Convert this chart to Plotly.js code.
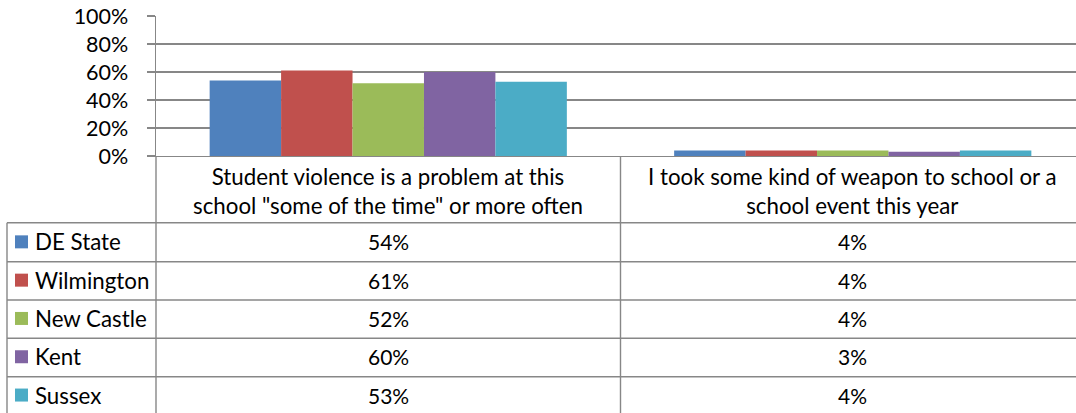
<!DOCTYPE html>
<html>
<head>
<meta charset="utf-8">
<script src="https://cdn.plot.ly/plotly-3.0.1.min.js"></script>
<style>html,body{margin:0;padding:0;background:#fff;}#chart{width:1076px;height:413px;}</style>
</head>
<body>
<div id="chart"></div>
<script>
// ---- data ----
var categories = [
  'Student violence is a problem at this<br>school "some of the time" or more often',
  'I took some kind of weapon to school or a<br>school event this year'
];
var seriesNames = ['DE State', 'Wilmington', 'New Castle', 'Kent', 'Sussex'];
var deState    = [0.54, 0.04];
var wilmington = [0.61, 0.04];
var newCastle  = [0.52, 0.04];
var kent       = [0.60, 0.03];
var sussex     = [0.53, 0.04];
var yTickVals  = [0, 0.2, 0.4, 0.6, 0.8, 1.0];
var yTickText  = ['0%', '20%', '40%', '60%', '80%', '100%'];

var seriesValues = [deState, wilmington, newCastle, kent, sussex];
var colors = ['#4F81BD', '#C0504D', '#9BBB59', '#8064A2', '#4BACC6'];

// ---- geometry helpers (pixel -> paper) ----
var W = 1076, H = 413;
var mL = 156, mR = 0, mT = 16, mB = 257;
var pw = W - mL - mR, ph = H - mT - mB;
function PX(px) { return (px - mL) / pw; }
function PY(py) { return (H - mB - py) / ph; }

var gridColor = '#878787';
var fontFam = 'Lato, "Open Sans", sans-serif';
var fsNum = 21;
var fsTxt = 22.3;

var xIdx = categories.map(function (c, i) { return i; });

var traces = seriesNames.map(function (name, s) {
  return {
    type: 'bar',
    name: name,
    x: xIdx,
    y: seriesValues[s],
    marker: { color: colors[s], line: { width: 0 } },
    hoverinfo: 'skip'
  };
});

var rowLines = [222.7, 261.7, 300, 338.3, 376.7];
var rowH = 38.3;
var shapes = [];
var annotations = [];

// horizontal table lines
rowLines.forEach(function (py) {
  shapes.push({ type: 'line', xref: 'paper', yref: 'paper',
    x0: PX(7), x1: 1, y0: PY(py), y1: PY(py),
    line: { color: gridColor, width: 1.4 } });
});
// vertical lines
shapes.push({ type: 'line', xref: 'paper', yref: 'paper',
  x0: PX(7), x1: PX(7), y0: PY(rowLines[0]), y1: PY(H + 5),
  line: { color: gridColor, width: 1.4 } });
shapes.push({ type: 'line', xref: 'paper', yref: 'paper',
  x0: 0, x1: 0, y0: 0, y1: PY(H + 5),
  line: { color: gridColor, width: 1.4 } });
// divider between categories (data coordinate 0.5)
shapes.push({ type: 'line', xref: 'x', yref: 'paper',
  x0: 0.5, x1: 0.5, y0: 0, y1: PY(H + 5),
  line: { color: gridColor, width: 1.4 } });

// category header labels
categories.forEach(function (c, i) {
  annotations.push({ xref: 'x', yref: 'paper', x: i, y: PY(191),
    text: c, showarrow: false, xanchor: 'center', yanchor: 'middle',
    font: { family: fontFam, size: fsTxt, color: '#000' } });
});

// table rows
seriesNames.forEach(function (name, s) {
  var cy = rowLines[0] + rowH * s + rowH / 2;
  shapes.push({ type: 'rect', xref: 'paper', yref: 'paper',
    x0: PX(15), x1: PX(28), y0: PY(cy - 6.5), y1: PY(cy + 6.5),
    fillcolor: colors[s], line: { width: 0 } });
  annotations.push({ xref: 'paper', yref: 'paper', x: PX(32.5), y: PY(cy),
    text: name, showarrow: false, xanchor: 'left', yanchor: 'middle',
    font: { family: fontFam, size: fsTxt, color: '#000' } });
  seriesValues[s].forEach(function (v, i) {
    annotations.push({ xref: 'x', yref: 'paper', x: i, y: PY(cy),
      text: Math.round(v * 100) + '%', showarrow: false,
      xanchor: 'center', yanchor: 'middle',
      font: { family: fontFam, size: fsNum, color: '#000' } });
  });
});

var layout = {
  width: W, height: H,
  margin: { l: mL, r: mR, t: mT, b: mB, pad: 0 },
  paper_bgcolor: '#fff', plot_bgcolor: '#fff',
  showlegend: false,
  barmode: 'group',
  bargap: 0.231,
  bargroupgap: 0,
  font: { family: fontFam, size: fsNum, color: '#000' },
  xaxis: {
    range: [-0.5, -0.5 + pw / 464.5],
    showticklabels: false, ticks: '', showgrid: false, zeroline: false,
    showline: true, linecolor: gridColor, linewidth: 1.4, fixedrange: true
  },
  yaxis: {
    range: [0, 1], tickvals: yTickVals, ticktext: yTickText,
    ticks: 'outside', ticklen: 8, tickcolor: gridColor, tickwidth: 1.4,
    ticklabelstandoff: 14,
    showgrid: true, gridcolor: gridColor, gridwidth: 1.4,
    zeroline: false, showline: true, linecolor: gridColor, linewidth: 1.4,
    tickfont: { family: fontFam, size: 21.5, color: '#000' }, fixedrange: true
  },
  shapes: shapes,
  annotations: annotations
};

Plotly.newPlot('chart', traces, layout, { staticPlot: true, displayModeBar: false });
</script>
</body>
</html>
